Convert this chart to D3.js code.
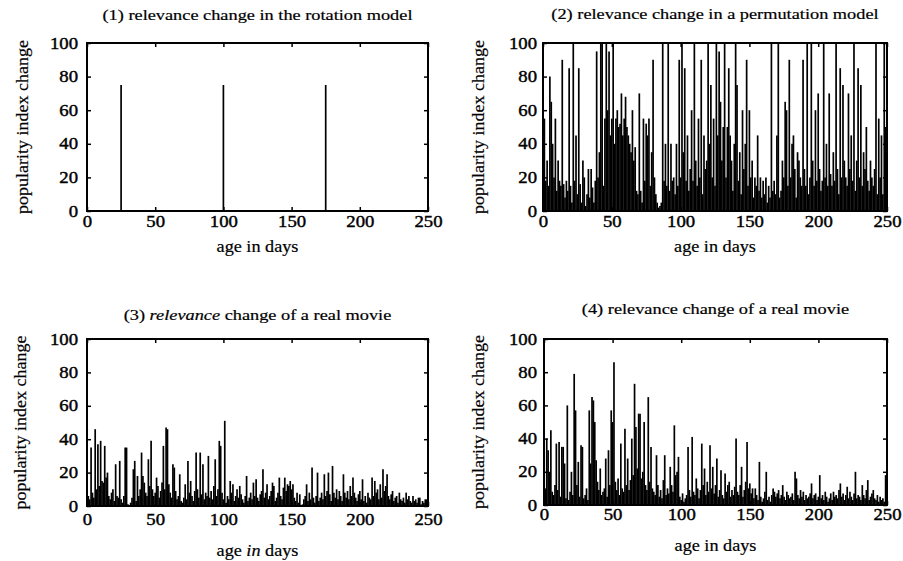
<!DOCTYPE html>
<html>
<head>
<meta charset="utf-8">
<script src="https://cdn.jsdelivr.net/npm/d3@7"></script>
<style>
  body { margin: 0; background: #fff; }
  text { font-family: "Liberation Serif", "DejaVu Serif", serif; fill: #000; stroke: #000; stroke-width: 0.2px; }
  .tick text { stroke-width: 0.4px; }
</style>
</head>
<body>
<div id="chart"></div>
<script>
// popularity index change per day of age (impulses)
var xTicks = [0, 50, 100, 150, 200, 250];
var yTicks = [0, 20, 40, 60, 80, 100];

// (1) rotation model: only a few non-zero days
var rotationDays = [25, 100, 175];
var rotationValues = [75, 75, 75];

// (2) permutation model, days 0..250
var permutationValues = [
  100, 55, 18, 30, 15, 80, 65, 40, 20, 55,
  12, 30, 18, 15, 90, 16, 8, 18, 12, 85,
  15, 5, 100, 18, 45, 10, 85, 16, 5, 30,
  20, 3, 10, 25, 8, 25, 14, 5, 18, 95,
  20, 35, 100, 100, 15, 55, 100, 60, 95, 45,
  55, 100, 40, 55, 60, 50, 52, 70, 45, 55,
  68, 50, 45, 40, 35, 60, 30, 38, 12, 10,
  70, 12, 5, 55, 18, 52, 45, 55, 15, 35,
  90, 20, 10, 5, 2, 3, 5, 100, 18, 40,
  15, 100, 12, 40, 18, 20, 10, 40, 15, 90,
  20, 100, 35, 85, 18, 45, 12, 25, 60, 18,
  100, 30, 15, 55, 20, 90, 10, 45, 25, 30,
  100, 40, 75, 20, 55, 15, 100, 45, 95, 65,
  30, 50, 100, 20, 50, 85, 45, 30, 12, 40,
  100, 75, 18, 35, 10, 60, 25, 40, 90, 15,
  60, 20, 30, 8, 20, 15, 45, 12, 20, 8,
  18, 10, 20, 5, 15, 8, 100, 12, 18, 10,
  45, 100, 8, 12, 30, 20, 65, 60, 15, 90,
  20, 40, 45, 25, 8, 35, 30, 20, 15, 90,
  25, 15, 100, 10, 20, 100, 30, 15, 60, 18,
  70, 25, 12, 18, 100, 20, 40, 15, 70, 22,
  15, 35, 18, 100, 25, 10, 85, 20, 75, 30,
  20, 15, 70, 25, 45, 18, 100, 12, 30, 85,
  20, 75, 15, 35, 25, 50, 18, 12, 30, 20,
  15, 25, 100, 10, 55, 20, 45, 10, 100, 50,
  55
];

// (3) real movie A, days 0..250
var movieAValues = [
  80, 6, 4, 35, 8, 5, 46, 10, 37, 12,
  39, 15, 14, 36, 17, 20, 6, 4, 8, 10,
  3, 25, 6, 5, 27, 4, 2, 6, 35, 35,
  1, 0, 2, 5, 22, 27, 3, 18, 6, 10,
  32, 18, 14, 8, 6, 28, 12, 39, 10, 6,
  8, 17, 12, 5, 9, 14, 36, 10, 47, 46,
  13, 8, 5, 25, 23, 9, 4, 6, 19, 3,
  2, 5, 13, 4, 27, 8, 15, 6, 3, 9,
  32, 10, 5, 32, 7, 25, 4, 8, 6, 30,
  5, 9, 4, 12, 28, 6, 10, 39, 36, 8,
  4, 51, 2, 6, 4, 15, 8, 13, 3, 6,
  10, 5, 12, 7, 4, 2, 6, 18, 3, 5,
  8, 4, 14, 6, 16, 5, 3, 7, 9, 22,
  5, 8, 13, 4, 6, 9, 14, 12, 3, 5,
  8, 17, 6, 4, 11, 17, 9, 13, 12, 15,
  10, 13, 5, 3, 8, 2, 7, 0, 1, 4,
  6, 13, 3, 8, 4, 23, 5, 2, 6, 20,
  3, 5, 8, 4, 19, 6, 9, 20, 7, 3,
  24, 8, 5, 10, 4, 9, 6, 3, 19, 8,
  5, 9, 4, 12, 6, 17, 8, 5, 3, 7,
  9, 4, 16, 3, 6, 2, 8, 5, 4, 17,
  6, 15, 8, 10, 4, 13, 5, 22, 9, 12,
  19, 6, 4, 7, 9, 3, 5, 6, 2, 8,
  4, 3, 5, 2, 8, 4, 6, 3, 2, 6,
  3, 4, 2, 5, 5, 1, 3, 2, 4, 4,
  82
];

// (4) real movie B, days 0..250
var movieBValues = [
  95, 10, 40, 33, 20, 45, 8, 6, 12, 37,
  9, 38, 5, 35, 35, 25, 4, 60, 3, 8,
  20, 6, 79, 57, 12, 26, 5, 36, 35, 4,
  6, 10, 3, 57, 25, 65, 63, 50, 27, 14,
  9, 22, 6, 8, 10, 28, 5, 33, 12, 57,
  50, 86, 14, 9, 16, 6, 37, 10, 8, 46,
  12, 28, 9, 15, 40, 18, 73, 47, 22, 55,
  55, 16, 20, 50, 12, 9, 65, 14, 35, 10,
  8, 6, 30, 12, 5, 9, 4, 15, 30, 6,
  10, 7, 23, 12, 8, 48, 18, 20, 29, 5,
  3, 7, 2, 4, 6, 35, 9, 5, 41, 8,
  6, 16, 10, 4, 9, 37, 12, 22, 6, 14,
  8, 36, 10, 23, 7, 12, 28, 5, 9, 21,
  6, 4, 19, 8, 12, 14, 5, 9, 6, 11,
  40, 8, 6, 12, 23, 5, 9, 14, 38, 10,
  13, 7, 10, 4, 10, 6, 3, 26, 5, 2,
  4, 8, 20, 3, 5, 2, 6, 10, 8, 5,
  7, 9, 4, 6, 12, 5, 3, 8, 6, 4,
  5, 7, 3, 20, 16, 6, 4, 9, 5, 8,
  3, 6, 4, 5, 7, 13, 4, 6, 7, 3,
  5, 18, 4, 6, 3, 8, 5, 2, 4, 7,
  3, 8, 5, 6, 4, 9, 13, 5, 7, 3,
  6, 11, 4, 8, 5, 3, 7, 20, 4, 6,
  5, 3, 12, 6, 4, 9, 15, 3, 5, 7,
  9, 4, 3, 6, 2, 5, 3, 4, 2, 18,
  10
];

function toPoints(values) {
  return values.map(function (v, i) { return { day: i, value: v }; });
}

var width = 903, height = 561;

var svg = d3.select("#chart").append("svg")
  .attr("width", width)
  .attr("height", height);

var panels = [
  { left: 87, right: 428, top: 43, bottom: 211, ylab: 22, titleY: 20, xlabY: 252, xPad: 5, yPad: 9,
    title: ["(1) relevance change in the rotation model"],
    xlab: ["age in days"],
    data: rotationDays.map(function (d, i) { return { day: d, value: rotationValues[i] }; }) },
  { left: 543, right: 887, top: 43, bottom: 211, ylab: 478, titleY: 19, xlabY: 252, xPad: 5, yPad: 6,
    title: ["(2) relevance change in a permutation model"],
    xlab: ["age in days"],
    data: toPoints(permutationValues) },
  { left: 87, right: 428, top: 339, bottom: 506, ylab: 20, titleY: 320, xlabY: 556, xPad: 8, yPad: 9,
    title: [["(3) ", false], ["relevance", true], [" change of a real movie", false]],
    xlab: [["age ", false], ["in", true], [" days", false]],
    data: toPoints(movieAValues) },
  { left: 544, right: 887, top: 339, bottom: 505, ylab: 478, titleY: 314, xlabY: 551, xPad: 4, yPad: 7,
    title: ["(4) relevance change of a real movie"],
    xlab: ["age in days"],
    data: toPoints(movieBValues) }
];

function addText(sel, parts) {
  parts.forEach(function (p) {
    if (typeof p === "string") sel.append("tspan").text(p);
    else sel.append("tspan").attr("font-style", p[1] ? "italic" : "normal").text(p[0]);
  });
  return sel;
}

// widen glyphs like the scanned original
function stretch(sel, f) {
  sel.each(function () {
    var w = this.getComputedTextLength();
    d3.select(this).attr("textLength", w * f).attr("lengthAdjust", "spacingAndGlyphs");
  });
}

panels.forEach(function (p) {
  var x = d3.scaleLinear().domain([0, 250]).range([p.left, p.right]);
  var y = d3.scaleLinear().domain([0, 100]).range([p.bottom, p.top]);
  var g = svg.append("g");

  // impulses
  g.append("g").selectAll("line")
    .data(p.data)
    .enter().append("line")
    .attr("x1", function (d) { return x(d.day); })
    .attr("x2", function (d) { return x(d.day); })
    .attr("y1", y(0))
    .attr("y2", function (d) { return y(d.value); })
    .attr("stroke", "#000")
    .attr("stroke-width", 1.7);

  // frame
  g.append("rect")
    .attr("x", p.left).attr("y", p.top)
    .attr("width", p.right - p.left).attr("height", p.bottom - p.top)
    .attr("fill", "none").attr("stroke", "#000").attr("stroke-width", 2);

  var axes = [
    { ax: d3.axisBottom(x).tickValues(xTicks).tickSize(-4).tickPadding(p.xPad), t: "translate(0," + p.bottom + ")" },
    { ax: d3.axisTop(x).tickValues(xTicks).tickSize(-4).tickFormat(""), t: "translate(0," + p.top + ")" },
    { ax: d3.axisLeft(y).tickValues(yTicks).tickSize(-4).tickPadding(p.yPad), t: "translate(" + p.left + ",0)" },
    { ax: d3.axisRight(y).tickValues(yTicks).tickSize(-4).tickFormat(""), t: "translate(" + p.right + ",0)" }
  ];
  axes.forEach(function (a) {
    var ag = g.append("g").attr("transform", a.t).call(a.ax);
    ag.select(".domain").remove();
    ag.selectAll(".tick line").attr("stroke", "#000").attr("stroke-width", 1.5);
    var tt = ag.selectAll(".tick text")
      .attr("font-family", "Liberation Serif, serif")
      .attr("font-size", 16)
      .attr("fill", "#000");
    stretch(tt.filter(function () { return this.textContent !== ""; }), 1.17);
  });

  var cx = (p.left + p.right) / 2;
  stretch(addText(g.append("text")
    .attr("x", cx).attr("y", p.titleY)
    .attr("text-anchor", "middle")
    .attr("font-size", 15), p.title), 1.22);

  stretch(addText(g.append("text")
    .attr("x", cx).attr("y", p.xlabY)
    .attr("text-anchor", "middle")
    .attr("font-size", 17), p.xlab), 1.07);

  stretch(g.append("text")
    .attr("transform", "translate(" + p.ylab + "," + ((p.top + p.bottom) / 2) + ") rotate(-90)")
    .attr("text-anchor", "middle")
    .attr("dy", "0.35em")
    .attr("font-size", 17)
    .text("popularity index change"), 1.06);
});
</script>
</body>
</html>
